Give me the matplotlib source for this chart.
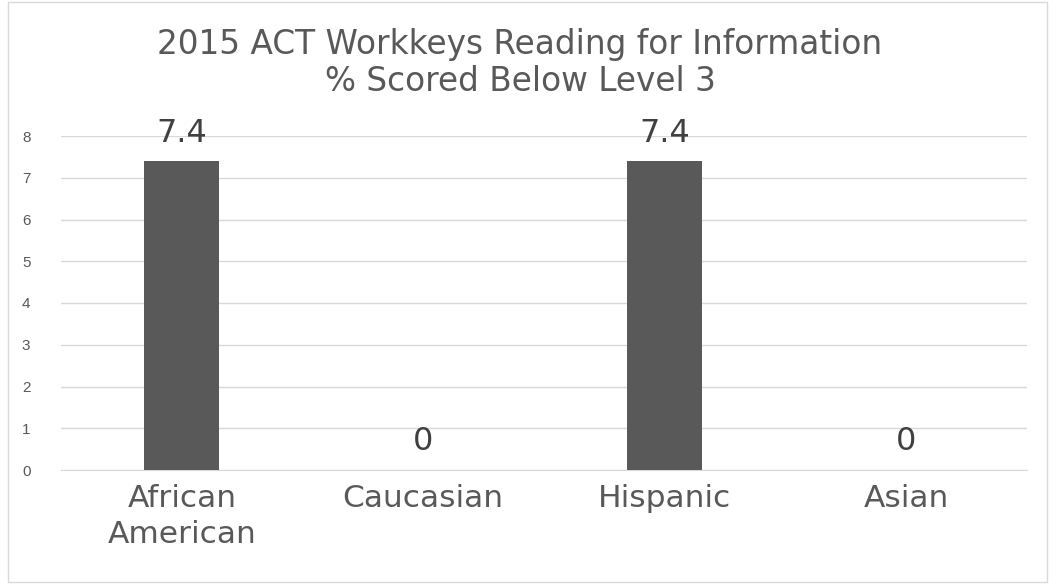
import matplotlib
matplotlib.use("Agg")
import matplotlib.pyplot as plt
from matplotlib.patches import Rectangle

plt.rcParams['font.family'] = ['DejaVu Sans']

categories = ["African\nAmerican", "Caucasian", "Hispanic", "Asian"]
values = [7.4, 0, 7.4, 0]
value_labels = ["7.4", "0", "7.4", "0"]
yticks = [0, 1, 2, 3, 4, 5, 6, 7, 8]
title = "2015 ACT Workkeys Reading for Information\n% Scored Below Level 3"

fig = plt.figure(figsize=(10.56, 5.84), dpi=100)
fig.patches.append(Rectangle((8/1056, 2/584), 1039/1056, 580/584, transform=fig.transFigure,
                             fill=False, edgecolor="#d9d9d9", linewidth=1))
ax = fig.add_axes([61/1056, 1-470/584, 966/1056, 334/584])
x = list(range(len(categories)))
ax.bar(x, values, width=0.31, color="#595959", zorder=3)
ax.set_xlim(-0.5, 3.5)
ax.set_ylim(0, 8)
ax.set_yticks(yticks)
ax.set_yticklabels([str(t) for t in yticks], fontsize=11, color="#595959", family="Liberation Sans")
ax.set_xticks(x)
ax.set_xticklabels(categories, fontsize=22.5, color="#595959", family="DejaVu Sans", linespacing=1.3)
ax.tick_params(axis="both", length=0)
ax.tick_params(axis="y", pad=22)
ax.tick_params(axis="x", pad=10)
ax.grid(axis="y", color="#d9d9d9", linewidth=1, zorder=0)
for s in ["top", "right", "left"]:
    ax.spines[s].set_visible(False)
ax.spines["bottom"].set_color("#d9d9d9")
for xi, v, lab in zip(x, values, value_labels):
    ax.annotate(lab, (xi, v), xytext=(0, 9), textcoords="offset points", ha="center", va="bottom",
                fontsize=23, color="#404040")
fig.text(520/1056, 1-63/584, title, ha="center", va="center", fontsize=23.6, color="#595959",
         linespacing=1.12)
fig.savefig("out.png", dpi=100)
